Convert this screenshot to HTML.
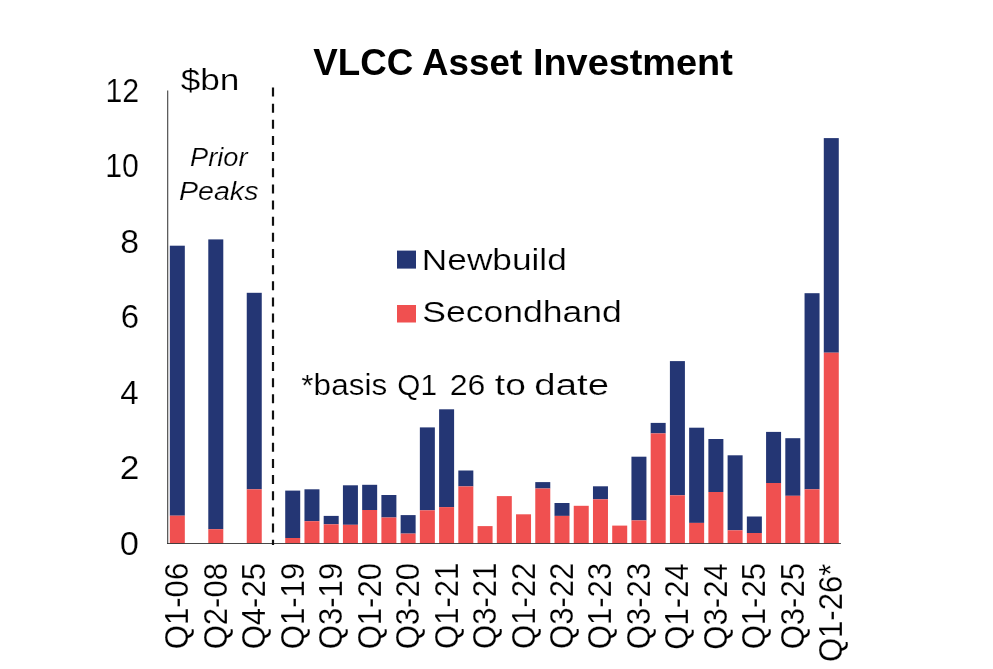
<!DOCTYPE html>
<html><head><meta charset="utf-8">
<style>
html,body{margin:0;padding:0;background:#fff;}
body{width:993px;height:669px;overflow:hidden;}
svg{display:block;will-change:transform;}
.wrap{width:993px;height:669px;}
.t{font-family:"Liberation Sans",sans-serif;fill:#000000;stroke:#fff;stroke-width:0.2px;paint-order:fill stroke;}
.tb{font-family:"Liberation Sans",sans-serif;fill:#000000;}
</style></head><body><div class="wrap">
<svg width="993" height="669" viewBox="0 0 993 669">
<rect width="993" height="669" fill="#fff"/>
<text x="313.23" y="75.3" class="tb" font-size="36" font-weight="bold" textLength="208.9" lengthAdjust="spacingAndGlyphs">VLCC Asset</text>
<text x="532.94" y="75.3" class="tb" font-size="36" font-weight="bold" textLength="199.91" lengthAdjust="spacingAndGlyphs">Investment</text>
<text x="180.65" y="90.2" class="t" font-size="29" textLength="58.77" lengthAdjust="spacingAndGlyphs">$bn</text>
<text x="190.08" y="166.2" class="t" font-size="26" font-style="italic" textLength="57.5" lengthAdjust="spacingAndGlyphs">Prior</text>
<text x="179.04" y="200.1" class="t" font-size="26" font-style="italic" textLength="79.41" lengthAdjust="spacingAndGlyphs">Peaks</text>
<text x="421.88" y="270" class="t" font-size="29" textLength="144.93" lengthAdjust="spacingAndGlyphs">Newbuild</text>
<text x="422.2" y="322.4" class="t" font-size="29" textLength="199.66" lengthAdjust="spacingAndGlyphs">Secondhand</text>
<text x="301.37" y="394.7" class="t" font-size="29" textLength="85.79" lengthAdjust="spacingAndGlyphs">*basis</text>
<text x="397.36" y="394.7" class="t" font-size="29" textLength="39.7" lengthAdjust="spacingAndGlyphs">Q1</text>
<text x="449.69" y="394.7" class="t" font-size="29" textLength="35.73" lengthAdjust="spacingAndGlyphs">26</text>
<text x="494.84" y="394.7" class="t" font-size="29" textLength="31.01" lengthAdjust="spacingAndGlyphs">to</text>
<text x="534.37" y="394.7" class="t" font-size="29" textLength="74.61" lengthAdjust="spacingAndGlyphs">date</text>
<text x="119.82" y="554.5" class="t" font-size="33" textLength="19.2" lengthAdjust="spacingAndGlyphs">0</text>
<text x="119.73" y="479.06" class="t" font-size="33" textLength="19.68" lengthAdjust="spacingAndGlyphs">2</text>
<text x="120.17" y="403.62" class="t" font-size="33" textLength="18.46" lengthAdjust="spacingAndGlyphs">4</text>
<text x="120.75" y="328.18" class="t" font-size="33" textLength="18.38" lengthAdjust="spacingAndGlyphs">6</text>
<text x="120.18" y="252.74" class="t" font-size="33" textLength="18.82" lengthAdjust="spacingAndGlyphs">8</text>
<text x="105.23" y="177.3" class="t" font-size="33" textLength="33.65" lengthAdjust="spacingAndGlyphs">10</text>
<text x="105.42" y="101.86" class="t" font-size="33" textLength="33.77" lengthAdjust="spacingAndGlyphs">12</text>
<rect x="169.82" y="245.7" width="15" height="270" fill="#243674"/><rect x="169.82" y="515.7" width="15" height="27.5" fill="#F05050"/><rect x="208.29" y="239.4" width="15" height="289.8" fill="#243674"/><rect x="208.29" y="529.2" width="15" height="14" fill="#F05050"/><rect x="246.75" y="292.8" width="15" height="196.5" fill="#243674"/><rect x="246.75" y="489.3" width="15" height="53.9" fill="#F05050"/><rect x="285.22" y="490.6" width="15" height="47.4" fill="#243674"/><rect x="285.22" y="538" width="15" height="5.2" fill="#F05050"/><rect x="304.46" y="489.3" width="15" height="31.9" fill="#243674"/><rect x="304.46" y="521.2" width="15" height="22" fill="#F05050"/><rect x="323.69" y="515.9" width="15" height="8.4" fill="#243674"/><rect x="323.69" y="524.3" width="15" height="18.9" fill="#F05050"/><rect x="342.93" y="485.3" width="15" height="39.5" fill="#243674"/><rect x="342.93" y="524.8" width="15" height="18.4" fill="#F05050"/><rect x="362.16" y="484.8" width="15" height="25.2" fill="#243674"/><rect x="362.16" y="510" width="15" height="33.2" fill="#F05050"/><rect x="381.39" y="495" width="15" height="22.5" fill="#243674"/><rect x="381.39" y="517.5" width="15" height="25.7" fill="#F05050"/><rect x="400.63" y="515.1" width="15" height="18.5" fill="#243674"/><rect x="400.63" y="533.6" width="15" height="9.6" fill="#F05050"/><rect x="419.86" y="427.4" width="15" height="82.9" fill="#243674"/><rect x="419.86" y="510.3" width="15" height="32.9" fill="#F05050"/><rect x="439.1" y="409.3" width="15" height="97.8" fill="#243674"/><rect x="439.1" y="507.1" width="15" height="36.1" fill="#F05050"/><rect x="458.33" y="470.5" width="15" height="15.9" fill="#243674"/><rect x="458.33" y="486.4" width="15" height="56.8" fill="#F05050"/><rect x="477.57" y="526.1" width="15" height="17.1" fill="#F05050"/><rect x="496.8" y="496.1" width="15" height="47.1" fill="#F05050"/><rect x="516.03" y="514.3" width="15" height="28.9" fill="#F05050"/><rect x="535.27" y="482.1" width="15" height="6.4" fill="#243674"/><rect x="535.27" y="488.5" width="15" height="54.7" fill="#F05050"/><rect x="554.5" y="503" width="15" height="12.9" fill="#243674"/><rect x="554.5" y="515.9" width="15" height="27.3" fill="#F05050"/><rect x="573.74" y="505.8" width="15" height="37.4" fill="#F05050"/><rect x="592.97" y="486.3" width="15" height="13" fill="#243674"/><rect x="592.97" y="499.3" width="15" height="43.9" fill="#F05050"/><rect x="612.21" y="525.6" width="15" height="17.6" fill="#F05050"/><rect x="631.44" y="456.7" width="15" height="63.7" fill="#243674"/><rect x="631.44" y="520.4" width="15" height="22.8" fill="#F05050"/><rect x="650.67" y="422.9" width="15" height="10.5" fill="#243674"/><rect x="650.67" y="433.4" width="15" height="109.8" fill="#F05050"/><rect x="669.91" y="361.1" width="15" height="134.2" fill="#243674"/><rect x="669.91" y="495.3" width="15" height="47.9" fill="#F05050"/><rect x="689.14" y="427.7" width="15" height="95.2" fill="#243674"/><rect x="689.14" y="522.9" width="15" height="20.3" fill="#F05050"/><rect x="708.38" y="439" width="15" height="53" fill="#243674"/><rect x="708.38" y="492" width="15" height="51.2" fill="#F05050"/><rect x="727.61" y="455.3" width="15" height="75" fill="#243674"/><rect x="727.61" y="530.3" width="15" height="12.9" fill="#F05050"/><rect x="746.85" y="516.5" width="15" height="16.5" fill="#243674"/><rect x="746.85" y="533" width="15" height="10.2" fill="#F05050"/><rect x="766.08" y="431.9" width="15" height="51.1" fill="#243674"/><rect x="766.08" y="483" width="15" height="60.2" fill="#F05050"/><rect x="785.31" y="438.2" width="15" height="57.6" fill="#243674"/><rect x="785.31" y="495.8" width="15" height="47.4" fill="#F05050"/><rect x="804.55" y="293.2" width="15" height="196.1" fill="#243674"/><rect x="804.55" y="489.3" width="15" height="53.9" fill="#F05050"/><rect x="823.78" y="138.1" width="15" height="214.6" fill="#243674"/><rect x="823.78" y="352.7" width="15" height="190.5" fill="#F05050"/>
<line x1="167.7" y1="90.6" x2="167.7" y2="543.7" stroke="#000" stroke-opacity="0.75" stroke-width="1.1"/>
<line x1="167.2" y1="543.5" x2="840.9" y2="543.5" stroke="#000" stroke-opacity="0.72" stroke-width="1.1"/>
<line x1="273" y1="87.5" x2="273" y2="545" stroke="#111" stroke-width="2.2" stroke-dasharray="9 7.15"/>
<rect x="397" y="250.6" width="19" height="18" fill="#243674"/>
<rect x="397" y="305" width="19" height="17.5" fill="#F05050"/>
<text transform="translate(188.32,649.2) rotate(-90)" x="0" y="0" class="t" font-size="32.5" textLength="86.38" lengthAdjust="spacingAndGlyphs">Q1-06</text><text transform="translate(226.79,649.35) rotate(-90)" x="0" y="0" class="t" font-size="32.5" textLength="86.38" lengthAdjust="spacingAndGlyphs">Q2-08</text><text transform="translate(265.25,649.35) rotate(-90)" x="0" y="0" class="t" font-size="32.5" textLength="86.38" lengthAdjust="spacingAndGlyphs">Q4-25</text><text transform="translate(303.72,649.2) rotate(-90)" x="0" y="0" class="t" font-size="32.5" textLength="86.38" lengthAdjust="spacingAndGlyphs">Q1-19</text><text transform="translate(342.19,649.2) rotate(-90)" x="0" y="0" class="t" font-size="32.5" textLength="86.38" lengthAdjust="spacingAndGlyphs">Q3-19</text><text transform="translate(380.66,649.35) rotate(-90)" x="0" y="0" class="t" font-size="32.5" textLength="86.38" lengthAdjust="spacingAndGlyphs">Q1-20</text><text transform="translate(419.13,649.35) rotate(-90)" x="0" y="0" class="t" font-size="32.5" textLength="86.38" lengthAdjust="spacingAndGlyphs">Q3-20</text><text transform="translate(457.6,649.04) rotate(-90)" x="0" y="0" class="t" font-size="32.5" textLength="86.38" lengthAdjust="spacingAndGlyphs">Q1-21</text><text transform="translate(496.07,649.04) rotate(-90)" x="0" y="0" class="t" font-size="32.5" textLength="86.38" lengthAdjust="spacingAndGlyphs">Q3-21</text><text transform="translate(534.53,649.04) rotate(-90)" x="0" y="0" class="t" font-size="32.5" textLength="86.38" lengthAdjust="spacingAndGlyphs">Q1-22</text><text transform="translate(573,649.04) rotate(-90)" x="0" y="0" class="t" font-size="32.5" textLength="86.38" lengthAdjust="spacingAndGlyphs">Q3-22</text><text transform="translate(611.47,649.2) rotate(-90)" x="0" y="0" class="t" font-size="32.5" textLength="86.38" lengthAdjust="spacingAndGlyphs">Q1-23</text><text transform="translate(649.94,649.2) rotate(-90)" x="0" y="0" class="t" font-size="32.5" textLength="86.38" lengthAdjust="spacingAndGlyphs">Q3-23</text><text transform="translate(688.41,649.66) rotate(-90)" x="0" y="0" class="t" font-size="32.5" textLength="86.38" lengthAdjust="spacingAndGlyphs">Q1-24</text><text transform="translate(726.88,649.66) rotate(-90)" x="0" y="0" class="t" font-size="32.5" textLength="86.38" lengthAdjust="spacingAndGlyphs">Q3-24</text><text transform="translate(765.35,649.35) rotate(-90)" x="0" y="0" class="t" font-size="32.5" textLength="86.38" lengthAdjust="spacingAndGlyphs">Q1-25</text><text transform="translate(803.81,649.35) rotate(-90)" x="0" y="0" class="t" font-size="32.5" textLength="86.38" lengthAdjust="spacingAndGlyphs">Q3-25</text><text transform="translate(842.28,662.1) rotate(-90)" x="0" y="0" class="t" font-size="32.5" textLength="98.47" lengthAdjust="spacingAndGlyphs">Q1-26*</text>
</svg></div>
</body></html>
